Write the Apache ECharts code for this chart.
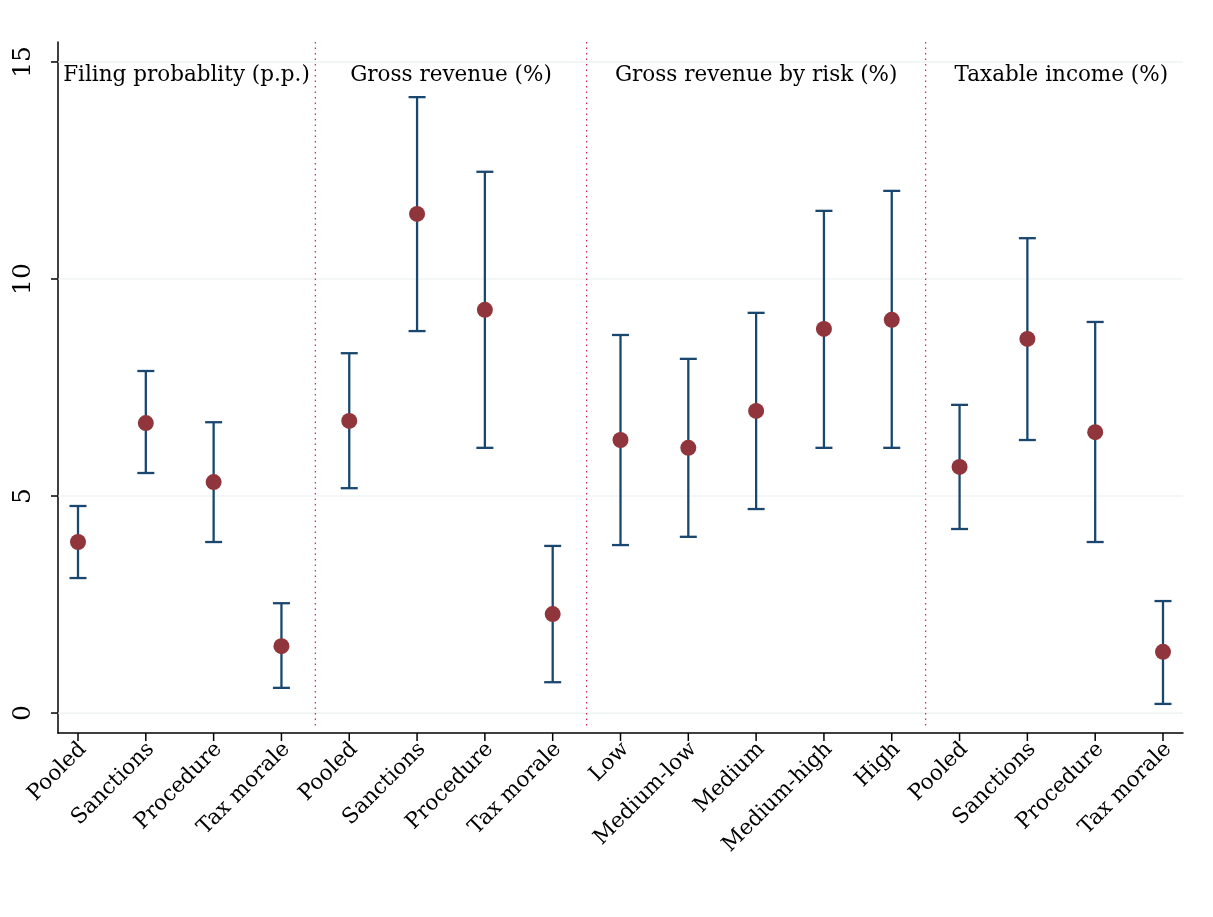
<!DOCTYPE html>
<html>
<head>
<meta charset="utf-8">
<style>
  html, body { margin: 0; padding: 0; background: #fff; }
  #chart { width: 1213px; height: 917px; }
</style>
<script src="https://cdn.jsdelivr.net/npm/echarts@6/dist/echarts.min.js"></script>
</head>
<body>
<div id="chart"></div>
<script>
    var categories = ['Pooled', 'Sanctions', 'Procedure', 'Tax morale',
        'Pooled', 'Sanctions', 'Procedure', 'Tax morale',
        'Low', 'Medium-low', 'Medium', 'Medium-high', 'High',
        'Pooled', 'Sanctions', 'Procedure', 'Tax morale'];
    var estimates = [3.94, 6.68, 5.32, 1.54, 6.73, 11.50, 9.29, 2.28,
        6.29, 6.11, 6.96, 8.85, 9.06, 5.67, 8.62, 6.47, 1.41];
    var upper = [4.77, 7.88, 6.70, 2.53, 8.29, 14.19, 12.47, 3.85,
        8.71, 8.16, 9.22, 11.57, 12.03, 7.10, 10.94, 9.01, 2.58];
    var lower = [3.11, 5.53, 3.94, 0.58, 5.18, 8.80, 6.11, 0.71,
        3.87, 4.06, 4.70, 6.11, 6.11, 4.24, 6.29, 3.94, 0.21];
    var groupTitles = ['Filing probablity (p.p.)', 'Gross revenue (%)', 'Gross revenue by risk (%)', 'Taxable income (%)'];
    var groupCenters = [1.6, 5.5, 10, 14.5];
    var separators = [3.5, 7.5, 12.5];
    var yTicks = [0, 5, 10, 15];

    var serif = "'DejaVu Serif', 'Liberation Serif', serif";
    var navy = '#1a476f';
    var maroon = '#90353b';

    var dom = document.getElementById('chart');
    var myChart = echarts.init(dom);

    var barData = categories.map(function (c, i) { return [i, lower[i], upper[i]]; });
    var pointData = categories.map(function (c, i) { return [i, estimates[i]]; });

    option = {
        animation: false,
        grid: { left: 58, right: 30, top: 42, bottom: 184 },
        xAxis: {
            type: 'value',
            min: -0.295,
            max: 16.295,
            splitLine: { show: false },
            axisLine: { onZero: false, lineStyle: { color: '#000', width: 1.5 } },
            axisTick: { show: false },
            axisLabel: { show: false }
        },
        yAxis: {
            type: 'value',
            min: -0.46,
            max: 15.46,
            splitLine: { show: false },
            axisLine: { show: true, onZero: false, lineStyle: { color: '#000', width: 1.5 } },
            axisTick: { show: false },
            axisLabel: { show: false }
        },
        series: [
            {
                // gridlines, y ticks and y labels
                type: 'custom',
                silent: true,
                data: yTicks,
                renderItem: function (params, api) {
                    var v = api.value(0);
                    var p = api.coord([-0.295, v]);
                    var q = api.coord([16.295, v]);
                    return {
                        type: 'group',
                        children: [
                            { type: 'line', shape: { x1: p[0], y1: p[1], x2: q[0], y2: q[1] },
                              style: { stroke: '#eaf0f2', lineWidth: 1.2 } },
                            { type: 'line', shape: { x1: p[0] - 7, y1: p[1], x2: p[0], y2: p[1] },
                              style: { stroke: '#000', lineWidth: 1.5 } },
                            { type: 'text', x: 23, y: p[1], rotation: Math.PI / 2,
                              style: { text: String(v), font: '25px ' + serif, fill: '#000',
                                       align: 'center', verticalAlign: 'middle' } }
                        ]
                    };
                }
            },
            {
                // x ticks and rotated category labels
                type: 'custom',
                silent: true,
                data: categories.map(function (c, i) { return [i]; }),
                renderItem: function (params, api) {
                    var i = api.value(0);
                    var p = api.coord([i, -0.46]);
                    return {
                        type: 'group',
                        children: [
                            { type: 'line', shape: { x1: p[0], y1: p[1], x2: p[0], y2: p[1] + 8 },
                              style: { stroke: '#000', lineWidth: 1.5 } },
                            { type: 'text', x: p[0] + 5, y: p[1] + 13, rotation: Math.PI / 4,
                              style: { text: categories[i], font: '21.5px ' + serif, fill: '#000',
                                       align: 'right', verticalAlign: 'middle' } }
                        ]
                    };
                }
            },
            {
                // group separators
                type: 'custom',
                silent: true,
                data: separators.map(function (s) { return [s]; }),
                renderItem: function (params, api) {
                    var s = api.value(0);
                    var a = api.coord([s, 15.46]);
                    var b = api.coord([s, 0]);
                    return { type: 'line', shape: { x1: a[0], y1: a[1], x2: b[0], y2: b[1] + 14 },
                             style: { stroke: '#d0205a', lineWidth: 1.2, lineDash: [1.5, 4] } };
                }
            },
            {
                // group titles
                type: 'custom',
                silent: true,
                data: groupTitles.map(function (t, i) { return [groupCenters[i]]; }),
                renderItem: function (params, api) {
                    var p = api.coord([api.value(0), 14.7]);
                    return { type: 'text', x: p[0], y: p[1],
                             style: { text: groupTitles[params.dataIndex], font: '21.5px ' + serif,
                                      fill: '#000', align: 'center', verticalAlign: 'middle' } };
                }
            },
            {
                // confidence intervals
                type: 'custom',
                data: barData,
                renderItem: function (params, api) {
                    var lo = api.coord([api.value(0), api.value(1)]);
                    var hi = api.coord([api.value(0), api.value(2)]);
                    var hw = 8.5;
                    var st = { stroke: navy, lineWidth: 2.3 };
                    return {
                        type: 'group',
                        children: [
                            { type: 'line', shape: { x1: lo[0], y1: lo[1], x2: hi[0], y2: hi[1] }, style: st },
                            { type: 'line', shape: { x1: lo[0] - hw, y1: lo[1], x2: lo[0] + hw, y2: lo[1] }, style: st },
                            { type: 'line', shape: { x1: hi[0] - hw, y1: hi[1], x2: hi[0] + hw, y2: hi[1] }, style: st }
                        ]
                    };
                },
                z: 3
            },
            {
                type: 'scatter',
                data: pointData,
                symbolSize: 16,
                itemStyle: { color: maroon, opacity: 1 },
                z: 4
            }
        ]
    };
    myChart.setOption(option, true);
</script>
</body>
</html>
